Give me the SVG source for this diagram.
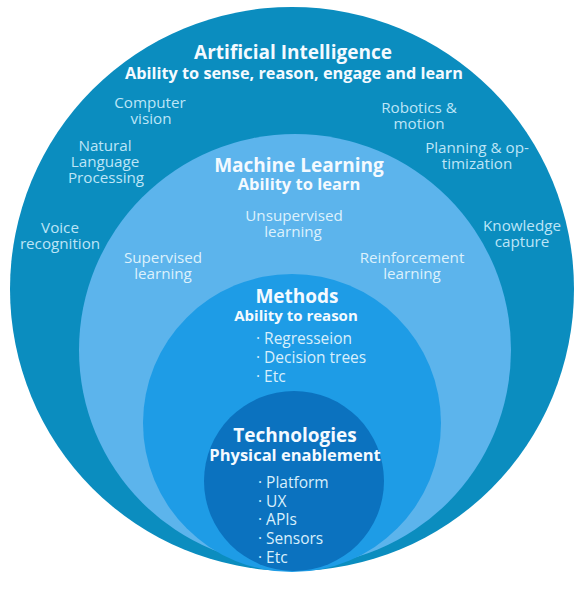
<svg xmlns="http://www.w3.org/2000/svg" width="575" height="590" viewBox="0 0 575 590">
<style>
text{font-family:"Open Sans","Liberation Sans",sans-serif;text-anchor:middle}
.t{font-weight:700;font-size:19px;fill:#F4FAFF}
.s{font-weight:700;fill:#F4FAFF}
.l{font-size:15.2px;fill:#BDE5F7}
.m{font-size:15.2px;fill:#DDF1FC}
.b{font-size:15.5px;fill:#D8EFFC;text-anchor:start}
</style>
<rect width="575" height="590" fill="#FFFFFF"/>
<g id="ai">
<circle cx="292" cy="289" r="282" fill="#0B8DBF"/>
<text class="t" x="293" y="59">Artificial Intelligence</text>
<text class="s" x="294" y="79" font-size="16.3">Ability to sense, reason, engage and learn</text>
<text class="l" x="150" y="108">Computer</text>
<text class="l" x="151" y="124">vision</text>
<text class="l" x="419" y="113">Robotics &amp;</text>
<text class="l" x="419" y="129">motion</text>
<text class="l" x="105" y="151">Natural</text>
<text class="l" x="105" y="167">Language</text>
<text class="l" x="106" y="183">Processing</text>
<text class="l" x="477" y="153">Planning &amp; op-</text>
<text class="l" x="477" y="169">timization</text>
<text class="l" x="60" y="233">Voice</text>
<text class="l" x="60" y="249">recognition</text>
<text class="l" x="522" y="231">Knowledge</text>
<text class="l" x="522" y="247">capture</text>
</g>
<g id="ml">
<circle cx="295" cy="350" r="216" fill="#5CB4EC"/>
<text class="t" x="299" y="172">Machine Learning</text>
<text class="s" x="299" y="190" font-size="16.5">Ability to learn</text>
<text class="m" x="294" y="221">Unsupervised</text>
<text class="m" x="293" y="237">learning</text>
<text class="m" x="163" y="263">Supervised</text>
<text class="m" x="163" y="279">learning</text>
<text class="m" x="412" y="263">Reinforcement</text>
<text class="m" x="412" y="279">learning</text>
</g>
<g id="methods">
<circle cx="292" cy="423" r="149" fill="#1E9CE6"/>
<text class="t" x="297" y="303">Methods</text>
<text class="s" x="296" y="321" font-size="15">Ability to reason</text>
<text class="b" x="256" y="344">· Regresseion</text>
<text class="b" x="256" y="363">· Decision trees</text>
<text class="b" x="256" y="382">· Etc</text>
</g>
<g id="technologies">
<circle cx="294" cy="481" r="90" fill="#0B72BF"/>
<text class="t" x="295" y="442">Technologies</text>
<text class="s" x="295" y="461" font-size="16.5">Physical enablement</text>
<text class="b" x="258" y="488">· Platform</text>
<text class="b" x="258" y="507">· UX</text>
<text class="b" x="258" y="525">· APIs</text>
<text class="b" x="258" y="544">· Sensors</text>
<text class="b" x="258" y="563">· Etc</text>
</g>
</svg>
